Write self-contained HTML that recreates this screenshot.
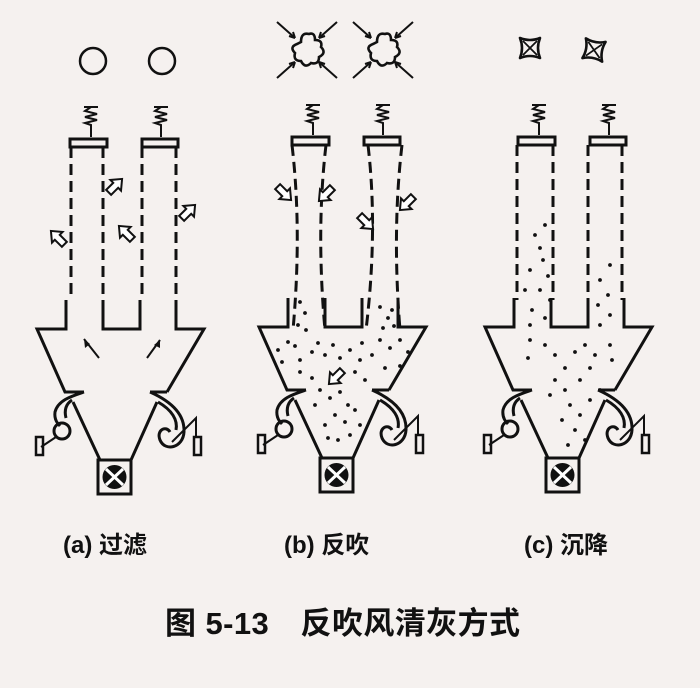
<!DOCTYPE html>
<html><head><meta charset="utf-8"><style>
html,body{margin:0;padding:0;background:#f5f1ef;}
svg{display:block}
text{font-family:"Liberation Sans","Noto Sans CJK SC",sans-serif;fill:#111;font-weight:bold}
</style></head><body>
<svg width="700" height="688" viewBox="0 0 700 688" xmlns="http://www.w3.org/2000/svg">
<rect width="700" height="688" fill="#f5f1ef"/>
<defs>
<polygon id="ar" points="-9,-3.5 1,-3.5 1,-7.5 10,0 1,7.5 1,3.5 -9,3.5" fill="#fff" stroke="#111" stroke-width="2"/>
<g id="flower">
  <path d="M-6 -8 q0 -10 8 -8 q6 -2 6 6 q8 0 6 7 q6 6 -2 10 q0 8 -8 6 q-6 6 -10 -2 q-8 0 -6 -8 q-6 -6 2 -9z" fill="none" stroke="#111" stroke-width="2.6"/>
  <path d="M-30 -28 L-12 -12 M30 -28 L12 -12 M-30 28 L-12 12 M30 28 L12 12" stroke="#111" stroke-width="2"/>
  <path d="M-12 -12 l-2 -6 M-12 -12 l-6 -2 M12 -12 l2 -6 M12 -12 l6 -2 M-12 12 l-2 6 M-12 12 l-6 2 M12 12 l2 6 M12 12 l6 2" stroke="#111" stroke-width="2"/>
</g>
<g id="cross">
  <path d="M-10 -10 q10 4 20 0 q-4 10 0 20 q-10 -4 -20 0 q4 -10 0 -20z" fill="none" stroke="#111" stroke-width="2.6" stroke-linejoin="round"/>
  <path d="M-7 -7 L7 7 M7 -7 L-7 7" stroke="#111" stroke-width="1.8"/>
</g>
<g id="base" fill="none" stroke="#111" stroke-width="3" stroke-linejoin="miter">
  <path d="M84 107h14 M91 107l-6 4 12 3 -12 3 12 3 -12 3 6 2 v12" stroke-width="2"/>
  <path d="M154 107h14 M161 107l-6 4 12 3 -12 3 12 3 -12 3 6 2 v12" stroke-width="2"/>
  <rect x="70" y="139" width="37" height="8"/>
  <rect x="142" y="139" width="36" height="8"/>
  <path d="M66 300 V329 H37 L65 392 H84 M167 392 H150 M167 392 L204 329 H176 V300 M103 300 V329 H140 V300"/>
  <path d="M73 402 L100 460 M157 402 L131 460"/>
  <rect x="98" y="460" width="33" height="34"/>
  <circle cx="114.5" cy="477" r="12" fill="#111" stroke="none"/>
  <path d="M106 469 L123 485 M123 469 L106 485" stroke="#fff" stroke-width="3"/>
  <path d="M84 392 C72 396 58 400 55 412 C54 420 58 424 60 426" stroke-width="3"/>
  <path d="M72 400 C66 404 64 410 66 418" stroke-width="3"/>
  <circle cx="62" cy="431" r="8"/>
  <path d="M56 437 L41 447" stroke-width="2"/>
  <rect x="36" y="437" width="7" height="18" stroke-width="2.5"/>
  <path d="M150 392 C168 400 185 412 184 432 C183 448 165 452 160 440 C156 430 166 425 170 432" stroke-width="3"/>
  <path d="M158 402 C172 410 178 420 176 430" stroke-width="3"/>
  <path d="M172 442 L196 418 V437" stroke-width="2"/>
  <rect x="194" y="437" width="7" height="18" stroke-width="2.5"/>
</g>
</defs>

<!-- Panel A -->
<use href="#base"/>
<g fill="none" stroke="#111" stroke-width="3">
  <path d="M71 147 V300 M103 147 V300 M142 147 V300 M176 147 V300" stroke-dasharray="11 6"/>
  <path d="M71 147 V156 M103 147 V156 M142 147 V156 M176 147 V156"/>
  <circle cx="93" cy="61" r="13" stroke-width="2.5"/>
  <circle cx="162" cy="61" r="13" stroke-width="2.5"/>
  <path d="M99 358 L84 339 M147 358 L160 340" stroke-width="2"/>
</g>
<g fill="#111"><path d="M84 339 l1 9 l5 -4z M160 340 l-6 5 l6 3z"/></g>
<use href="#ar" transform="translate(58,238) rotate(-135)"/>
<use href="#ar" transform="translate(115,186) rotate(-45)"/>
<use href="#ar" transform="translate(126,233) rotate(-135)"/>
<use href="#ar" transform="translate(188,212) rotate(-45)"/>

<!-- Panel B -->
<g transform="translate(222,-2)"><use href="#base"/></g>
<g fill="none" stroke="#111" stroke-width="3">
  <path d="M292 145 Q302 230 293 330 M326 145 Q316 230 325 330 M368 145 Q378 230 366 330 M402 145 Q392 230 400 330" stroke-dasharray="11 6"/>
</g>
<use href="#flower" transform="translate(307,50)"/>
<use href="#flower" transform="translate(383,50)"/>
<use href="#ar" transform="translate(284,193) rotate(45)"/>
<use href="#ar" transform="translate(326,194) rotate(135)"/>
<use href="#ar" transform="translate(366,222) rotate(45)"/>
<use href="#ar" transform="translate(407,203) rotate(135)"/>
<use href="#ar" transform="translate(336,377) rotate(135)"/>
<g fill="#111">
<circle cx="300" cy="302" r="1.9"/><circle cx="305" cy="313" r="1.9"/><circle cx="298" cy="325" r="1.9"/><circle cx="306" cy="330" r="1.9"/><circle cx="288" cy="342" r="1.9"/><circle cx="278" cy="350" r="1.9"/><circle cx="295" cy="346" r="1.9"/><circle cx="282" cy="362" r="1.9"/><circle cx="300" cy="360" r="1.9"/><circle cx="312" cy="352" r="1.9"/><circle cx="318" cy="343" r="1.9"/><circle cx="325" cy="355" r="1.9"/><circle cx="333" cy="345" r="1.9"/><circle cx="340" cy="358" r="1.9"/><circle cx="350" cy="350" r="1.9"/><circle cx="362" cy="343" r="1.9"/><circle cx="360" cy="360" r="1.9"/><circle cx="372" cy="355" r="1.9"/><circle cx="380" cy="340" r="1.9"/><circle cx="390" cy="348" r="1.9"/><circle cx="400" cy="340" r="1.9"/><circle cx="408" cy="352" r="1.9"/><circle cx="400" cy="366" r="1.9"/><circle cx="385" cy="368" r="1.9"/><circle cx="380" cy="307" r="1.9"/><circle cx="388" cy="318" r="1.9"/><circle cx="383" cy="328" r="1.9"/><circle cx="394" cy="326" r="1.9"/><circle cx="392" cy="310" r="1.9"/><circle cx="300" cy="372" r="1.9"/><circle cx="312" cy="378" r="1.9"/><circle cx="320" cy="390" r="1.9"/><circle cx="315" cy="405" r="1.9"/><circle cx="330" cy="398" r="1.9"/><circle cx="340" cy="392" r="1.9"/><circle cx="348" cy="405" r="1.9"/><circle cx="335" cy="415" r="1.9"/><circle cx="325" cy="425" r="1.9"/><circle cx="345" cy="422" r="1.9"/><circle cx="355" cy="410" r="1.9"/><circle cx="350" cy="435" r="1.9"/><circle cx="338" cy="440" r="1.9"/><circle cx="328" cy="438" r="1.9"/><circle cx="360" cy="425" r="1.9"/><circle cx="365" cy="380" r="1.9"/><circle cx="355" cy="372" r="1.9"/>
</g>

<!-- Panel C -->
<g transform="translate(448,-2)"><use href="#base"/></g>
<g fill="none" stroke="#111" stroke-width="3">
  <path d="M517 145 V300 M553 145 V300 M588 145 V300 M622 145 V300" stroke-dasharray="11 6"/>
</g>
<use href="#cross" transform="translate(530,48)"/>
<use href="#cross" transform="translate(594,50) rotate(10)"/>
<g fill="#111">
<circle cx="545" cy="225" r="1.9"/><circle cx="535" cy="235" r="1.9"/><circle cx="540" cy="248" r="1.9"/><circle cx="543" cy="260" r="1.9"/><circle cx="530" cy="270" r="1.9"/><circle cx="548" cy="276" r="1.9"/><circle cx="540" cy="290" r="1.9"/><circle cx="525" cy="290" r="1.9"/><circle cx="550" cy="300" r="1.9"/><circle cx="532" cy="310" r="1.9"/><circle cx="545" cy="318" r="1.9"/><circle cx="530" cy="325" r="1.9"/><circle cx="610" cy="265" r="1.9"/><circle cx="600" cy="280" r="1.9"/><circle cx="608" cy="295" r="1.9"/><circle cx="598" cy="305" r="1.9"/><circle cx="610" cy="315" r="1.9"/><circle cx="600" cy="325" r="1.9"/><circle cx="530" cy="340" r="1.9"/><circle cx="545" cy="345" r="1.9"/><circle cx="528" cy="358" r="1.9"/><circle cx="555" cy="355" r="1.9"/><circle cx="565" cy="368" r="1.9"/><circle cx="575" cy="352" r="1.9"/><circle cx="585" cy="345" r="1.9"/><circle cx="595" cy="355" r="1.9"/><circle cx="610" cy="345" r="1.9"/><circle cx="612" cy="360" r="1.9"/><circle cx="590" cy="368" r="1.9"/><circle cx="580" cy="380" r="1.9"/><circle cx="565" cy="390" r="1.9"/><circle cx="555" cy="380" r="1.9"/><circle cx="570" cy="405" r="1.9"/><circle cx="580" cy="415" r="1.9"/><circle cx="562" cy="420" r="1.9"/><circle cx="575" cy="430" r="1.9"/><circle cx="585" cy="440" r="1.9"/><circle cx="568" cy="445" r="1.9"/><circle cx="590" cy="400" r="1.9"/><circle cx="550" cy="395" r="1.9"/><circle cx="600" cy="390" r="1.9"/>
</g>

<text x="63" y="553" font-size="24">(a) 过滤</text>
<text x="284" y="553" font-size="24">(b) 反吹</text>
<text x="524" y="553" font-size="24">(c) 沉降</text>
<text x="165" y="634" font-size="31" textLength="355" lengthAdjust="spacing">图 5-13　反吹风清灰方式</text>
</svg>
</body></html>
